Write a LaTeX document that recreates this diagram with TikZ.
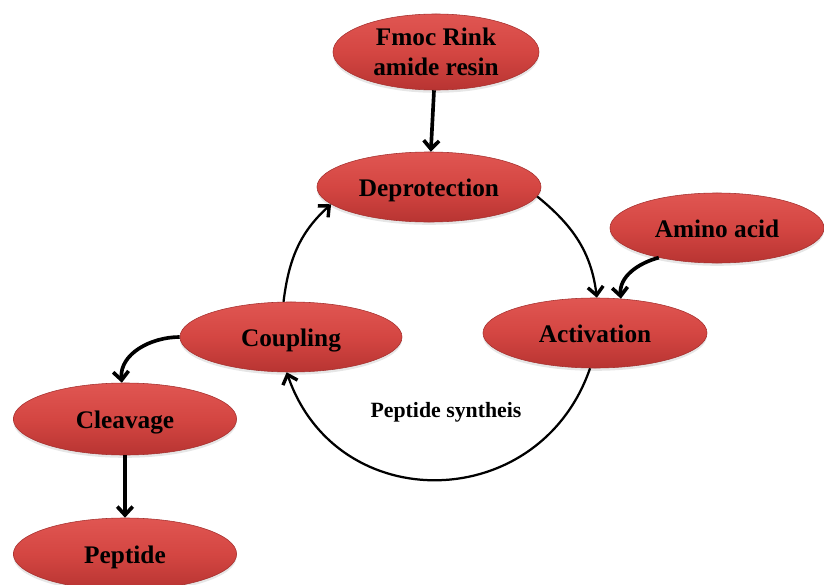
\documentclass[tikz,border=0pt]{standalone}
\usepackage{fontspec}
\setmainfont{Liberation Serif}
\usetikzlibrary{shapes.geometric,arrows.meta,shadows}
\definecolor{StageRed}{RGB}{212,70,66}
\definecolor{StageRedTop}{RGB}{224,86,82}
\definecolor{StageRedLow}{RGB}{184,52,50}
\definecolor{StageEdge}{RGB}{165,48,46}

\begin{document}
\begin{tikzpicture}[
  x=0.025cm, y=0.025cm,
  font=\fontsize{18}{21}\selectfont\bfseries,
  stage/.style={ellipse, draw=StageEdge, line width=0.4pt, top color=StageRedTop, bottom color=StageRedLow, middle color=StageRed,
    minimum width=5.6cm, minimum height=1.75cm, inner sep=0pt, align=center,
    drop shadow={opacity=0.2, shadow xshift=0pt, shadow yshift=-2pt}},
  oneline/.style={text height=14pt, text depth=0pt},
  thickarrow/.style={-{Straight Barb[length=6pt,width=11pt]}, line width=2.6pt},
  cyclearrow/.style={-{Straight Barb[length=6pt,width=11pt,line width=2.4pt]}, line width=1.6pt}
]
  \useasboundingbox (0,-585) rectangle (824,0);

  % Stages of the synthesis
  \node[stage, minimum width=5.15cm, minimum height=1.9cm] (fmoc) at (436,-52) {Fmoc Rink\\amide resin};
  \node[stage, oneline] (deprot) at (429,-187) {Deprotection};
  \node[stage, oneline, minimum width=5.35cm] (amino) at (717,-228) {Amino acid};
  \node[stage, oneline] (activ) at (595,-333) {Activation};
  \node[stage, oneline, minimum width=5.55cm] (coupl) at (291,-337) {Coupling};
  \node[stage, oneline, minimum width=5.58cm, minimum height=1.8cm] (cleav) at (125,-419) {Cleavage};
  \node[stage, oneline, minimum width=5.58cm, minimum height=1.8cm] (pept) at (125,-554) {Peptide};
  \node[font=\fontsize{15.5}{18}\selectfont\bfseries] (cycle) at (446,-412) {Peptide syntheis};

  % Connectors
  \draw[thickarrow] (fmoc) -- (deprot);
  \draw[cyclearrow] (deprot.355) to[out=-39, in=97] (activ.87);
  \draw[thickarrow] (amino.207) to[out=195, in=95] (activ.53);
  \draw[cyclearrow] (activ.262) to[out=-109, in=-71, looseness=1.3] (coupl.263);
  \draw[cyclearrow] (coupl.102) to[out=83, in=222] (deprot.190);
  \draw[thickarrow] (coupl.west) to[out=180, in=95] (cleav.95);
  \draw[thickarrow] (cleav) -- (pept);
\end{tikzpicture}
\end{document}
